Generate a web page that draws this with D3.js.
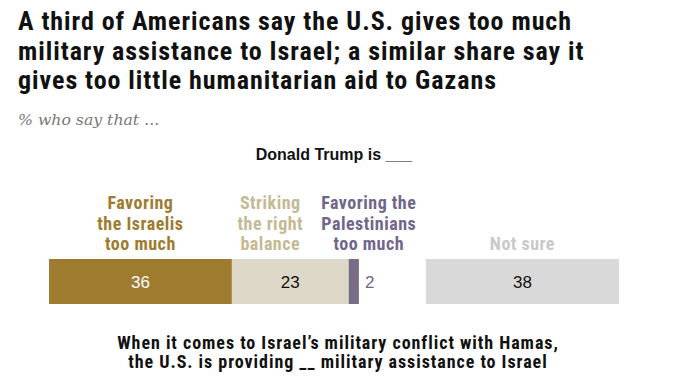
<!DOCTYPE html>
<html>
<head>
  <script src="https://d3js.org/d3.v7.min.js"></script>
  <style>
    body { margin: 0; background: #fff; }
    .cond { font-family: "Roboto Condensed", Roboto, sans-serif; font-weight: bold; }
  </style>
</head>
<body>
<svg id="chart" width="677" height="378"></svg>
<script>
// chart data
var categories = ["Favoring the Israelis too much", "Striking the right balance", "Favoring the Palestinians too much", "Not sure"];
var labelLines = [["Favoring", "the Israelis", "too much"], ["Striking", "the right", "balance"], ["Favoring the", "Palestinians", "too much"], ["Not sure"]];
var values = [36, 23, 2, 38];
var titleLines = ["A third of Americans say the U.S. gives too much",
  "military assistance to Israel; a similar share say it",
  "gives too little humanitarian aid to Gazans"];
var subtitle = "% who say that ...";
var question = "Donald Trump is ___";
var footLines = ["When it comes to Israel\u2019s military conflict with Hamas,",
  "the U.S. is providing __ military assistance to Israel"];

var barColors = ["#9e7b2f", "#ddd8c7", "#776d87", "#d9d9d9"];
var textColors = ["#9e7b2f", "#c4b994", "#71668a", "#c9c9c9"];
var valueColors = ["#ffffff", "#111111", "#71668a", "#111111"];

var svg = d3.select("#chart");

// title
svg.append("g").selectAll("text")
  .data(titleLines)
  .enter().append("text")
  .attr("class", "cond")
  .attr("x", 18)
  .attr("y", function(d, i) { return 30 + i * 29.5; })
  .style("font-size", "26px")
  .style("letter-spacing", "0.95px")
  .attr("fill", "#111")
  .text(function(d) { return d; });

svg.append("text")
  .attr("x", 18).attr("y", 125)
  .style("font-family", "'DejaVu Serif', serif")
  .style("font-style", "italic")
  .style("font-size", "15.7px")
  .attr("fill", "#777")
  .text(subtitle);

svg.append("text")
  .attr("x", 334).attr("y", 160)
  .attr("text-anchor", "middle")
  .style("font-family", "'Liberation Sans', Arial, sans-serif")
  .style("font-weight", "bold")
  .style("font-size", "16px")
  .attr("fill", "#111")
  .text(question);

// bar scale: the "not sure" bar is set apart by a gap
var x = d3.scaleLinear().domain([0, 100]).range([49, 557]);
var gap = 67;
var barTop = 259, barH = 45;

var starts = [];
var acc = 0;
values.forEach(function(v, i) {
  var s = x(acc);
  if (i === 3) s += gap;
  starts.push(s);
  acc += v;
});
var widths = values.map(function(v) { return x(v) - x(0); });

var g = svg.append("g");
g.selectAll("rect")
  .data(values)
  .enter().append("rect")
  .attr("x", function(d, i) { return starts[i]; })
  .attr("y", barTop)
  .attr("width", function(d, i) { return widths[i]; })
  .attr("height", barH)
  .attr("fill", function(d, i) { return barColors[i]; });

// value labels; tiny segment gets its label outside
g.selectAll("text.val")
  .data(values)
  .enter().append("text")
  .attr("class", "val")
  .attr("x", function(d, i) { return d < 5 ? starts[i] + widths[i] + 6 : starts[i] + widths[i] / 2; })
  .attr("y", barTop + 29)
  .attr("text-anchor", function(d) { return d < 5 ? "start" : "middle"; })
  .style("font-family", "'Liberation Sans', Arial, sans-serif")
  .style("font-size", "17px")
  .attr("fill", function(d, i) { return valueColors[i]; })
  .text(function(d) { return d; });

// category labels above bars (two are nudged so they don't collide)
var labelShift = [0, -20, 15, 0];
var lg = svg.append("g");
labelLines.forEach(function(lines, i) {
  var cx = starts[i] + widths[i] / 2 + labelShift[i];
  var n = lines.length;
  lines.forEach(function(line, j) {
    lg.append("text")
      .attr("class", "cond")
      .attr("x", cx)
      .attr("y", 250 - (n - 1 - j) * 20.5)
      .attr("text-anchor", "middle")
      .style("font-size", "18px")
      .style("letter-spacing", "0.5px")
      .attr("fill", textColors[i])
      .text(line);
  });
});

// footer question
svg.append("g").selectAll("text")
  .data(footLines)
  .enter().append("text")
  .attr("class", "cond")
  .attr("x", 338)
  .attr("y", function(d, i) { return 349 + i * 19; })
  .attr("text-anchor", "middle")
  .style("font-size", "18px")
  .style("letter-spacing", "0.95px")
  .attr("fill", "#111")
  .text(function(d) { return d; });
</script>
</body>
</html>
